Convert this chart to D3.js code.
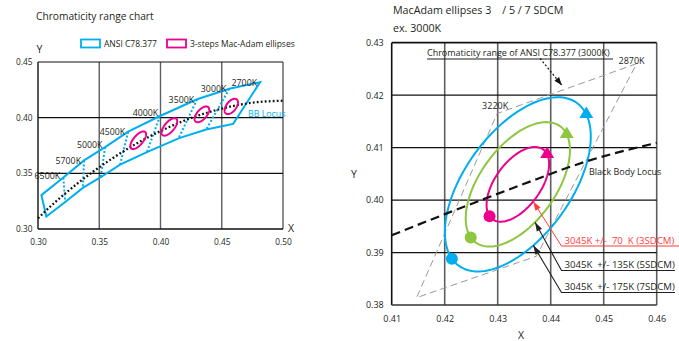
<!DOCTYPE html>
<html><head><meta charset="utf-8">
<script src="https://cdn.jsdelivr.net/npm/d3@7"></script>
<style>
body{margin:0;background:#fff}
svg{display:block}
text{font-family:"Open Sans",sans-serif;fill:#231f20;white-space:pre}
</style>
</head><body>
<svg id="c" width="679" height="341"></svg>
<script>
// ================= DATA =================
// ---- left chart: ANSI C78.377 quadrangles ----
const ansiCCT = ["6500K","5700K","5000K","4500K","4000K","3500K","3000K","2700K"];
const ansiTR = [[0.3205,0.3481],[0.3376,0.3616],[0.3551,0.3760],[0.3736,0.3874],[0.4006,0.4044],[0.4299,0.4165],[0.4562,0.4260],[0.4813,0.4319]];
const ansiTL = [[0.3028,0.3304],[0.3207,0.3462],[0.3376,0.3616],[0.3548,0.3736],[0.3736,0.3874],[0.3996,0.4015],[0.4299,0.4165],[0.4562,0.4260]];
const ansiBL = [[0.3068,0.3113],[0.3222,0.3243],[0.3366,0.3369],[0.3512,0.3465],[0.3670,0.3578],[0.3889,0.3690],[0.4147,0.3814],[0.4373,0.3893]];
const ansiBR = [[0.3221,0.3261],[0.3366,0.3369],[0.3515,0.3487],[0.3670,0.3578],[0.3898,0.3716],[0.4147,0.3814],[0.4373,0.3893],[0.4593,0.3944]];
// 3-step MacAdam ellipses (left chart)
const maCCT = ["4000K","3500K","3000K","2700K"];
const maCenter = [[0.3818,0.3797],[0.4073,0.3917],[0.4338,0.4030],[0.4578,0.4101]];
const maA = [0.00939,0.00927,0.00828,0.00774];
const maB = [0.00402,0.00414,0.00408,0.00411];
const maTheta = [53.7,54.0,53.2,57.3];
// black body locus (left chart)
const bbLX = [0.300,0.3135,0.3221,0.3451,0.3608,0.3805,0.4053,0.4369,0.4599,0.4770,0.500];
const bbLY = [0.3096,0.3236,0.3318,0.3516,0.3635,0.3768,0.3907,0.4041,0.4106,0.4137,0.4152];
const xTicksL = [0.30,0.35,0.40,0.45,0.50];
const yTicksL = [0.30,0.35,0.40,0.45];
const legendL = ["ANSI C78.377","3-steps Mac-Adam ellipses"];

// ---- right chart: MacAdam 3/5/7 SDCM at 3000K ----
const sdcmSteps = [7,5,3];
const sdcmNames = ["3045K  +/- 175K (7SDCM)","3045K  +/- 135K (5SDCM)","3045K +/-  70  K (3SDCM)"];
const sdcmCenter = [0.4338,0.4030];
const sdcmA1 = 0.00273, sdcmB1 = 0.00143, sdcmTheta = 54.5;
const sdcmDotT = 169, sdcmArrowT = -16;       // parametric angles (deg) of start dot / arrow
const sdcmCalloutT = [246, 253, 263];          // where callout arrows touch each ellipse
const ansi3000 = [[0.4562,0.4260],[0.4299,0.4165],[0.4147,0.3814],[0.4373,0.3893]];
const ansi3000Labels = ["2870K","3220K"];
const bbRX = [0.41,0.4342,0.4465,0.46];
const bbRY = [0.3933,0.4028,0.4073,0.4109];
const xTicksR = [0.41,0.42,0.43,0.44,0.45,0.46];
const yTicksR = [0.38,0.39,0.40,0.41,0.42,0.43];

// ================= DRAW =================
const svg = d3.select("#c");
const CYAN="#00aeef", MAG="#ec008c", GREEN="#8dc63f", RED="#ff3b3b", GRIDV="#5f5f5f";

function ePt(c,a,b,th,tDeg){
  const t=tDeg*Math.PI/180, r=th*Math.PI/180;
  return [c[0]+a*Math.cos(t)*Math.cos(r)-b*Math.sin(t)*Math.sin(r),
          c[1]+a*Math.cos(t)*Math.sin(r)+b*Math.sin(t)*Math.cos(r)];
}
function ellipse(c,a,b,th){ return d3.range(0,360,3).map(t=>ePt(c,a,b,th,t)); }

// ---------- LEFT ----------
const xL = d3.scaleLinear().domain([0.30,0.50]).range([38,283]);
const yL = d3.scaleLinear().domain([0.30,0.45]).range([229,62]);
const gL = svg.append("g");

svg.append("text").attr("x",36).attr("y",20).attr("font-size",10.2).text("Chromaticity range chart");

// grid
gL.selectAll("line.vg").data(xTicksL.slice(1)).join("line")
  .attr("x1",d=>xL(d)).attr("x2",d=>xL(d)).attr("y1",yL(0.30)).attr("y2",yL(0.45))
  .attr("stroke",GRIDV).attr("stroke-width",1.4);
gL.selectAll("line.hg").data(yTicksL.slice(1)).join("line")
  .attr("x1",xL(0.30)).attr("x2",xL(0.50)).attr("y1",d=>yL(d)).attr("y2",d=>yL(d))
  .attr("stroke","#111").attr("stroke-width",1.1);
gL.append("line").attr("x1",xL(0.30)).attr("x2",xL(0.30)).attr("y1",yL(0.30)).attr("y2",yL(0.45)).attr("stroke","#111").attr("stroke-width",1.4);
gL.append("line").attr("x1",xL(0.30)).attr("x2",xL(0.50)).attr("y1",yL(0.30)).attr("y2",yL(0.30)).attr("stroke","#111").attr("stroke-width",1.4);

// axes labels
const axBL = gL.append("g").attr("transform",`translate(0,${yL(0.30)})`)
  .call(d3.axisBottom(xL).tickValues(xTicksL).tickSize(0).tickPadding(10.5).tickFormat(d3.format(".2f")));
const axLL = gL.append("g").attr("transform",`translate(${xL(0.30)},0)`)
  .call(d3.axisLeft(yL).tickValues(yTicksL).tickSize(0).tickPadding(5.5).tickFormat(d3.format(".2f")));
[axBL,axLL].forEach(a=>{a.select(".domain").remove(); a.selectAll("text").attr("font-size",8.3).attr("font-family","Open Sans").attr("fill","#231f20");});
gL.append("text").attr("x",36.5).attr("y",53).attr("font-size",10.5).text("Y");
gL.append("text").attr("x",288).attr("y",231.5).attr("font-size",10.5).text("X");

// legend
const lgL = gL.append("g");
[[81,CYAN],[167,MAG]].forEach((p,i)=>{
  lgL.append("rect").attr("x",p[0]).attr("y",39.5).attr("width",19).attr("height",8)
    .attr("fill","none").attr("stroke",p[1]).attr("stroke-width",1.8);
  lgL.append("text").attr("x",p[0]+23).attr("y",46.8).attr("font-size",8.5).text(legendL[i]);
});

// ANSI outline
const lineL = d3.line().x(d=>xL(d[0])).y(d=>yL(d[1]));
const topEdge = ansiTL.concat([ansiTR[ansiTR.length-1]]);
const botEdge = ansiBL.concat([ansiBR[ansiBR.length-1]]);
const outline = topEdge.concat(botEdge.slice().reverse());
gL.append("path").attr("d",d3.line().x(d=>xL(d[0])).y(d=>yL(d[1])).curve(d3.curveLinearClosed)(outline))
  .attr("fill","none").attr("stroke",CYAN).attr("stroke-width",2).attr("stroke-linejoin","miter");
// dotted dividers
gL.selectAll("path.div").data(d3.range(1,ansiTL.length)).join("path")
  .attr("d",i=>lineL([ansiTL[i],ansiBL[i]]))
  .attr("fill","none").attr("stroke",CYAN).attr("stroke-width",2).attr("stroke-dasharray","2,2");
// black body locus
gL.append("path").attr("d",d3.line().x(d=>xL(d[0])).y(d=>yL(d[1])).curve(d3.curveMonotoneX)(bbLX.map((x,i)=>[x,bbLY[i]])))
  .attr("fill","none").attr("stroke","#111").attr("stroke-width",2.3).attr("stroke-dasharray","1.8,2.2");
// ellipses
gL.selectAll("path.ma").data(maCCT).join("path")
  .attr("d",(d,i)=>d3.line().x(p=>xL(p[0])).y(p=>yL(p[1])).curve(d3.curveLinearClosed)(ellipse(maCenter[i],maA[i],maB[i],maTheta[i])))
  .attr("fill","none").attr("stroke",MAG).attr("stroke-width",2);
// CCT labels
gL.selectAll("text.cct").data(ansiCCT).join("text")
  .attr("x",(d,i)=>xL(ansiTR[i][0])-3).attr("y",(d,i)=>yL(ansiTR[i][1])+3.5)
  .attr("text-anchor","end").attr("font-size",8.8).text(d=>d);
gL.append("text").attr("x",xL(0.4715)).attr("y",yL(0.4004)).attr("font-size",8.8).style("fill",CYAN).text("BB Locus");

// ---------- RIGHT ----------
const xR = d3.scaleLinear().domain([0.41,0.46]).range([391.7,656.7]);
const yR = d3.scaleLinear().domain([0.38,0.43]).range([305,42.7]);
const gR = svg.append("g");

svg.append("text").attr("x",393).attr("y",14).attr("font-size",10.7).text("MacAdam ellipses 3\u3000/ 5 / 7 SDCM");
svg.append("text").attr("x",393).attr("y",31.5).attr("font-size",10.7).text("ex. 3000K");

gR.selectAll("line.vg").data(xTicksR.slice(1)).join("line")
  .attr("x1",d=>xR(d)).attr("x2",d=>xR(d)).attr("y1",yR(0.38)).attr("y2",yR(0.43))
  .attr("stroke",GRIDV).attr("stroke-width",1.6);
gR.selectAll("line.hg").data(yTicksR.slice(1)).join("line")
  .attr("x1",xR(0.41)).attr("x2",xR(0.46)).attr("y1",d=>yR(d)).attr("y2",d=>yR(d))
  .attr("stroke","#111").attr("stroke-width",d=>d===0.43?1.7:1.2);
gR.append("line").attr("x1",xR(0.41)).attr("x2",xR(0.41)).attr("y1",yR(0.38)).attr("y2",yR(0.43)).attr("stroke","#111").attr("stroke-width",1.6);
gR.append("line").attr("x1",xR(0.41)).attr("x2",xR(0.46)).attr("y1",yR(0.38)).attr("y2",yR(0.38)).attr("stroke","#333").attr("stroke-width",1.7);

const axBR = gR.append("g").attr("transform",`translate(0,${yR(0.38)})`)
  .call(d3.axisBottom(xR).tickValues(xTicksR).tickSize(0).tickPadding(11).tickFormat(d3.format(".2f")));
const axLR = gR.append("g").attr("transform",`translate(${xR(0.41)},0)`)
  .call(d3.axisLeft(yR).tickValues(yTicksR).tickSize(0).tickPadding(8).tickFormat(d3.format(".2f")));
[axBR,axLR].forEach(a=>{a.select(".domain").remove(); a.selectAll("text").attr("font-size",9).attr("font-family","Open Sans").attr("fill","#231f20");});
gR.append("text").attr("x",354).attr("y",178).attr("text-anchor","middle").attr("font-size",10.5).text("Y");
gR.append("text").attr("x",521).attr("y",338.5).attr("text-anchor","middle").attr("font-size",10.5).text("X");

// ANSI 3000K quadrangle (dashed)
gR.append("path").attr("d",d3.line().x(d=>xR(d[0])).y(d=>yR(d[1])).curve(d3.curveLinearClosed)(ansi3000))
  .attr("fill","none").attr("stroke","#9a9a9a").attr("stroke-width",1).attr("stroke-dasharray","7,4");
gR.append("text").attr("x",xR(ansi3000[0][0])-5).attr("y",yR(ansi3000[0][1])).attr("text-anchor","middle").attr("font-size",9).text(ansi3000Labels[0]);
gR.append("text").attr("x",xR(ansi3000[1][0])-2).attr("y",yR(ansi3000[1][1])-5).attr("text-anchor","middle").attr("font-size",9).text(ansi3000Labels[1]);

// ellipses
const sdcmColors = [CYAN,GREEN,MAG];
sdcmSteps.forEach((s,i)=>{
  const a=sdcmA1*s, b=sdcmB1*s;
  gR.append("path").attr("d",d3.line().x(d=>xR(d[0])).y(d=>yR(d[1])).curve(d3.curveLinearClosed)(ellipse(sdcmCenter,a,b,sdcmTheta)))
    .attr("fill","none").attr("stroke",sdcmColors[i]).attr("stroke-width",2);
});
// black body locus
gR.append("path").attr("d",d3.line().x(d=>xR(d[0])).y(d=>yR(d[1])).curve(d3.curveMonotoneX)(bbRX.map((x,i)=>[x,bbRY[i]])))
  .attr("fill","none").attr("stroke","#111").attr("stroke-width",2.2).attr("stroke-dasharray","9,5");
gR.append("text").attr("x",589).attr("y",175).attr("font-size",9).text("Black Body Locus");
// dots & arrowheads
sdcmSteps.forEach((s,i)=>{
  const a=sdcmA1*s, b=sdcmB1*s;
  const d0=ePt(sdcmCenter,a,b,sdcmTheta,sdcmDotT);
  gR.append("circle").attr("cx",xR(d0[0])).attr("cy",yR(d0[1])).attr("r",6).attr("fill",sdcmColors[i]);
  const p=ePt(sdcmCenter,a,b,sdcmTheta,sdcmArrowT);
  const px=xR(p[0]), py=yR(p[1]);
  gR.append("path").attr("d",`M${px},${py-7.7}L${px+7},${py+3.8}L${px-7},${py+3.8}Z`).attr("fill",sdcmColors[i]);
});

// callouts
function arrowHead(g,tip,from,len,w,color){
  const ang=Math.atan2(tip[1]-from[1],tip[0]-from[0]);
  const bx=tip[0]-len*Math.cos(ang), by=tip[1]-len*Math.sin(ang);
  const nx=-Math.sin(ang)*w/2, ny=Math.cos(ang)*w/2;
  g.append("path").attr("d",`M${tip[0]},${tip[1]}L${bx+nx},${by+ny}L${bx-nx},${by-ny}Z`).attr("fill",color);
}
const calloutRows = [292.5,270.5,246];   // rows of callout underlines (7,5,3 SDCM)
const calloutEnd = [675,675,679];
const calloutColor = ["#231f20","#231f20",RED];
sdcmSteps.forEach((s,i)=>{
  const a=sdcmA1*s, b=sdcmB1*s;
  const t=ePt(sdcmCenter,a,b,sdcmTheta,sdcmCalloutT[i]);
  const tip=[xR(t[0]),yR(t[1])];
  const elbow=[561.5,calloutRows[i]];
  const col=calloutColor[i];
  gR.append("path").attr("d",`M${tip[0]},${tip[1]}L${elbow[0]},${elbow[1]}L${calloutEnd[i]},${elbow[1]}`)
    .attr("fill","none").attr("stroke",col).attr("stroke-width",i===2?1:1.1);
  arrowHead(gR,tip,elbow,9,6,col);
  gR.append("text").attr("x",564.5).attr("y",elbow[1]-2.5).attr("font-size",9.6).style("fill",col).text(sdcmNames[i]);
});

// ANSI range annotation
const annStart=[xR(0.4380),yR(0.4270)], annTip=[xR(0.4421),yR(0.4219)];
gR.append("text").attr("x",427).attr("y",56).attr("font-size",9).text("Chromaticity range of ANSI C78.377 (3000K)");
gR.append("line").attr("x1",427).attr("x2",613).attr("y1",59).attr("y2",59).attr("stroke","#231f20").attr("stroke-width",1);
gR.append("line").attr("x1",annStart[0]).attr("y1",annStart[1]).attr("x2",annTip[0]).attr("y2",annTip[1])
  .attr("stroke","#111").attr("stroke-width",1.2).attr("stroke-dasharray","2,2");
arrowHead(gR,annTip,annStart,8,6,"#111");
</script>
</body></html>
